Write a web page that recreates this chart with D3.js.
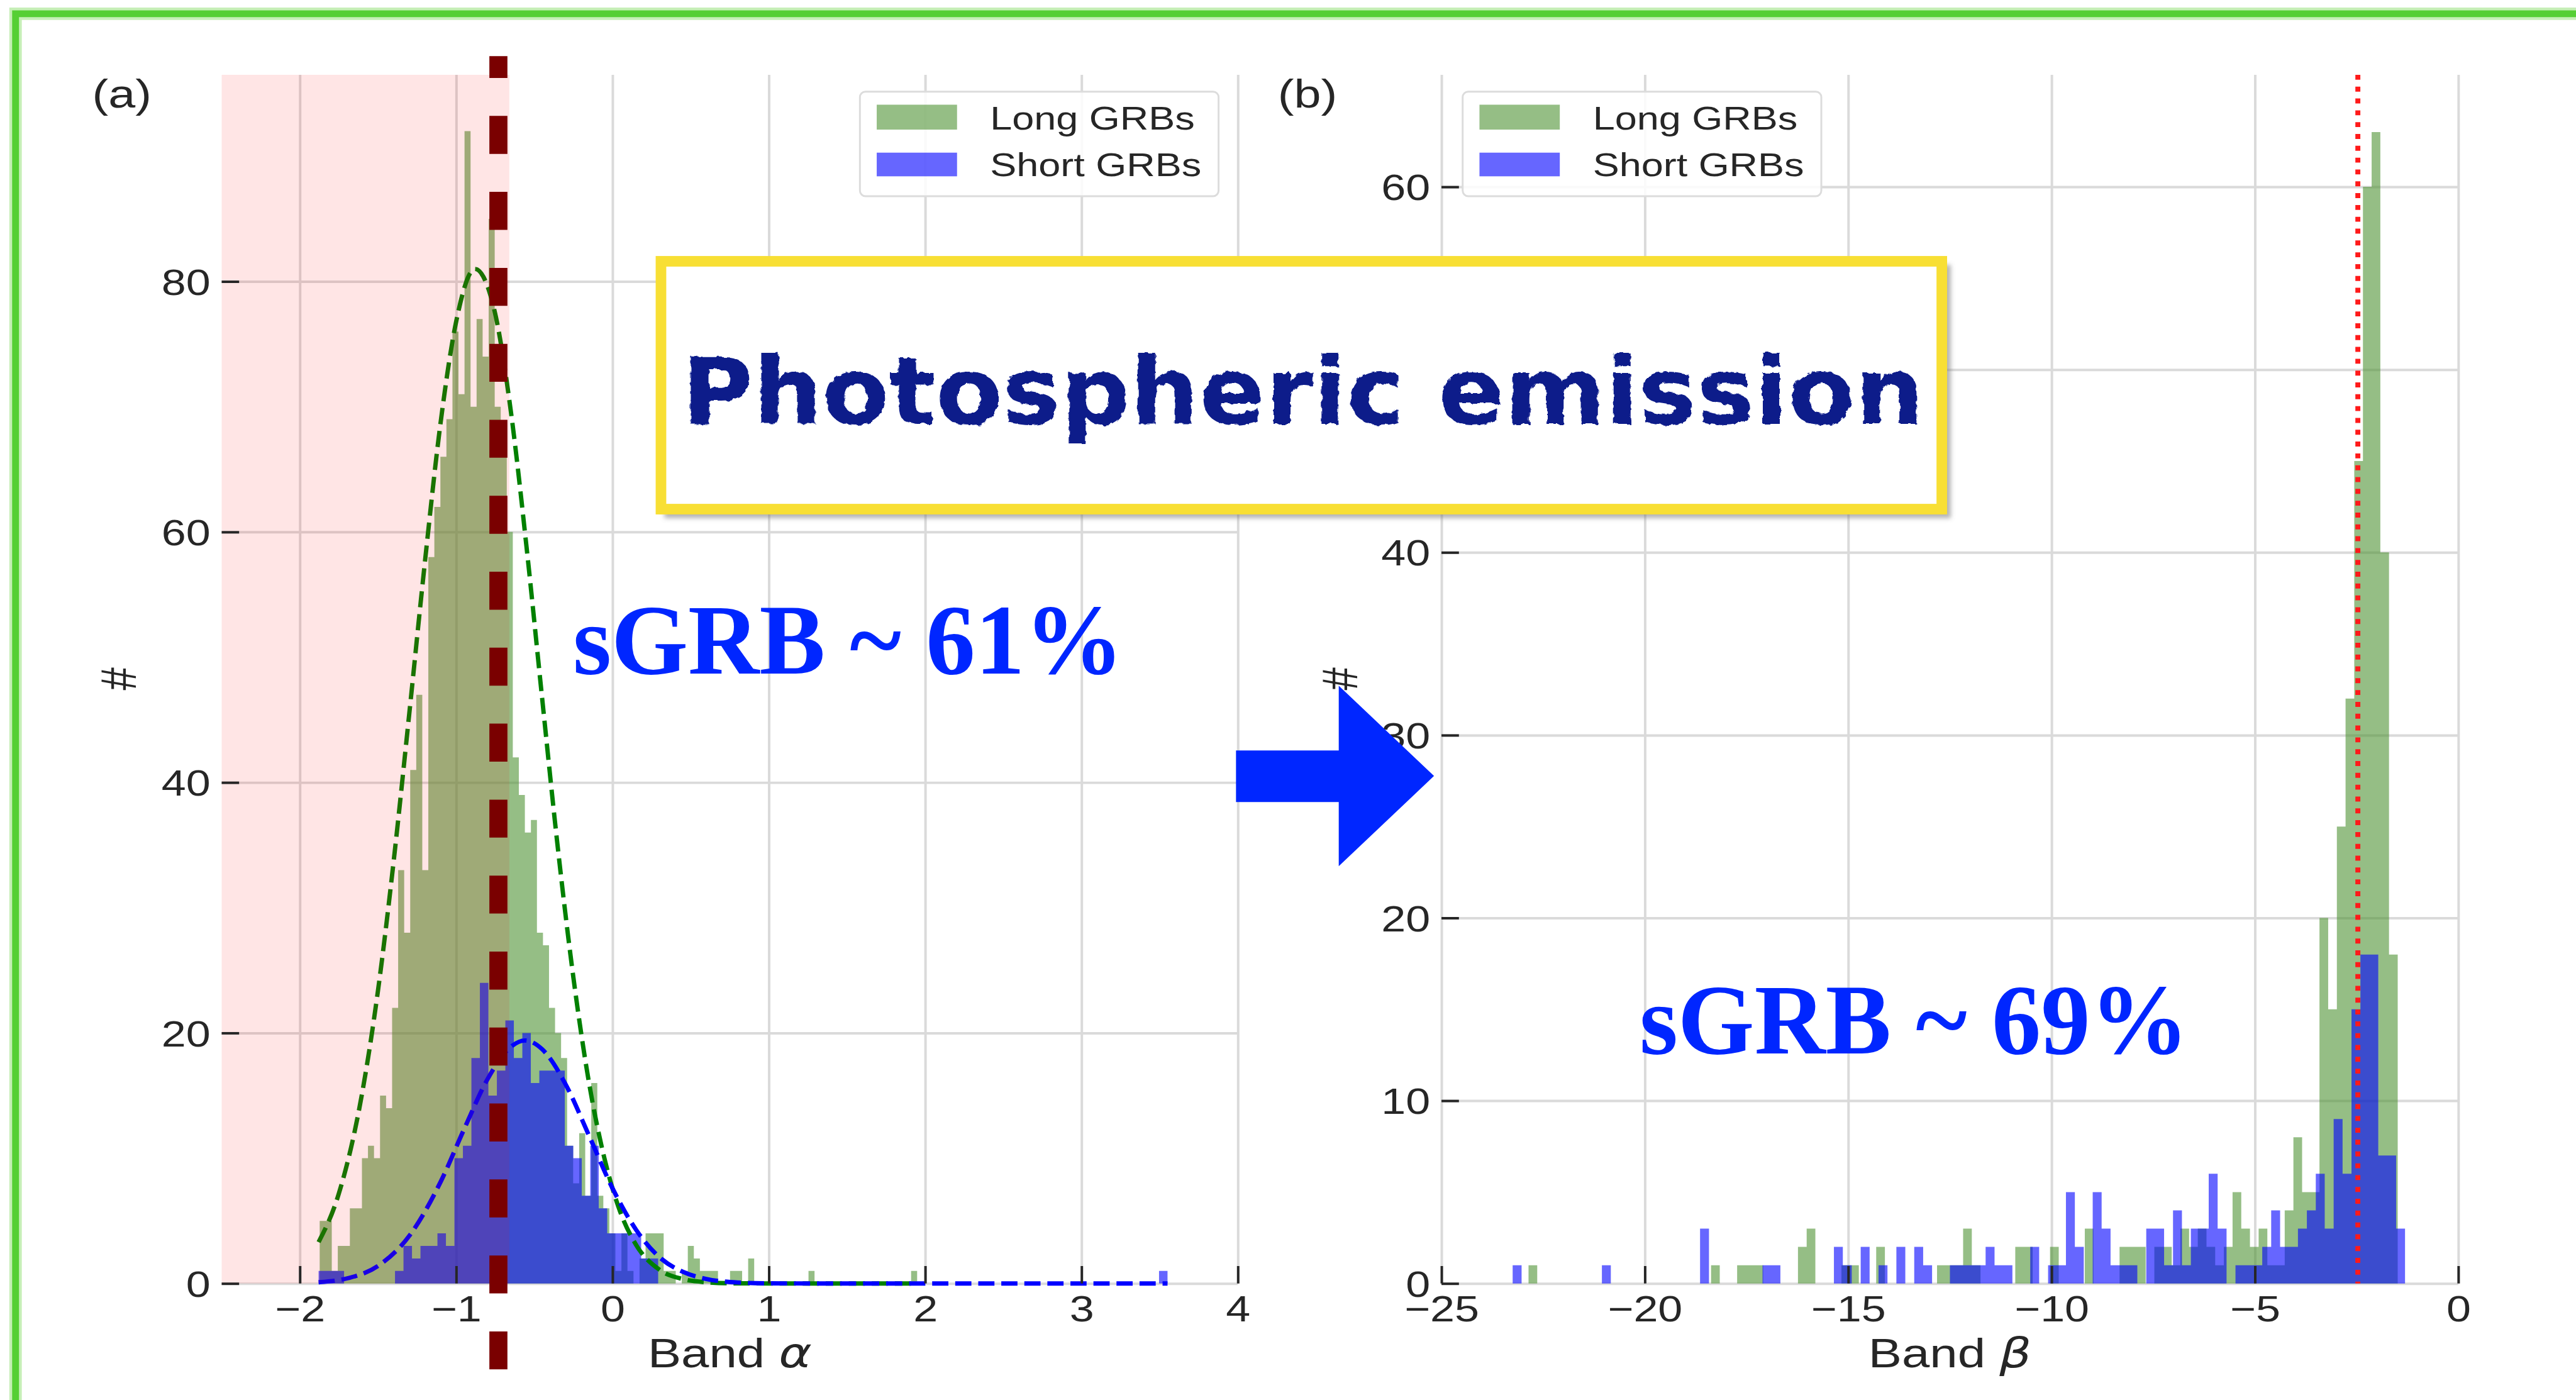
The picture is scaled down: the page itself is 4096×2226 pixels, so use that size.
<!DOCTYPE html>
<html><head><meta charset="utf-8">
<script src="https://cdn.jsdelivr.net/npm/d3@7"></script>
<style>html,body{margin:0;padding:0;background:#fff;overflow:hidden}</style>
</head><body>
<svg id="c" width="4096" height="2226" viewBox="0 0 4137 2248"></svg>
<script>
// ---------------- data ----------------
// Panel (a): Band alpha histograms (100 bins each)
const alphaLongStart = -1.873, alphaLongWidth = 0.0386;
const alphaLongCounts = [
  5,5,1,3,3,6,6,10,11,10,
  15,14,22,33,28,41,47,33,58,62,
  66,69,76,71,92,70,77,74,85,70,
  66,60,42,39,36,37,28,27,22,20,
  18,11,8,12,7,16,7,6,4,1,
  4,1,0,2,4,4,4,1,1,0,
  1,3,2,1,1,1,0,0,1,1,
  0,2,0,0,0,0,0,0,0,0,
  0,1,0,0,0,0,0,0,0,0,
  0,0,0,0,0,0,0,0,1,0];
const alphaShortStart = -1.88, alphaShortWidth = 0.0543;
const alphaShortCounts = [
  1,1,1,0,0,0,0,0,0,1,
  3,2,3,3,4,3,10,11,18,24,
  15,17,21,18,20,16,17,17,17,11,
  10,7,11,6,4,4,4,4,2,2,
  0,0,0,0,0,0,0,0,0,0,
  0,0,0,0,0,0,0,0,0,0,
  0,0,0,0,0,0,0,0,0,0,
  0,0,0,0,0,0,0,0,0,0,
  0,0,0,0,0,0,0,0,0,0,
  0,0,0,0,0,0,0,0,0,1];
// fitted curves
const alphaLongFit = [[-1.88,3.3],[-1.75,7.2],[-1.6,15.3],[-1.5,23.4],[-1.4,33.7],[-1.3,45.5],[-1.2,57.6],[-1.1,68.7],[-1.0,76.8],[-0.88,81.0],[-0.75,77.4],[-0.65,69.6],[-0.55,58.8],[-0.45,46.7],[-0.35,34.8],[-0.25,24.4],[-0.15,16.0],[-0.05,9.9],[0.05,5.7],[0.15,3.1],[0.3,1.1],[0.45,0.35],[0.6,0.1],[0.8,0.01],[1.2,0],[1.95,0]];
const alphaShortFit = [[-1.88,0.1],[-1.7,0.4],[-1.5,1.4],[-1.3,3.8],[-1.1,8.1],[-0.95,12.3],[-0.8,16.3],[-0.65,18.9],[-0.56,19.4],[-0.45,18.7],[-0.3,15.9],[-0.15,11.8],[0,7.6],[0.15,4.3],[0.3,2.1],[0.45,0.93],[0.6,0.36],[0.8,0.08],[1.0,0.01],[1.5,0],[2.5,0],[3.55,0]];
const alphaCut = -0.73;       // dark-red dashed line
const alphaShadeEnd = -0.66;  // pink span end
const alphaXTicks = [-2,-1,0,1,2,3,4];
const alphaYTicks = [0,20,40,60,80];
const alphaYLabelTicks = [0,20,40,60,80];
const alphaXDomain = [-2.5,4], alphaYDomain = [0,96.5];

// Panel (b): Band beta histograms (100 bins each)
const betaLongStart = -22.86, betaLongWidth = 0.2137;
const betaLongCounts = [
  1,0,0,0,0,0,0,0,0,0,
  0,0,0,0,0,0,0,0,0,0,
  0,1,0,0,1,1,1,0,0,0,
  0,2,3,0,0,0,1,1,0,0,
  2,0,0,0,0,0,0,1,1,1,
  3,1,0,0,0,0,2,2,0,0,
  2,0,0,0,3,0,0,0,2,2,
  2,0,2,2,1,3,2,3,2,1,
  2,5,3,2,3,1,1,4,8,5,
  5,20,15,25,32,45,60,63,40,18];
const betaShortStart = -23.25, betaShortWidth = 0.2194;
const betaShortCounts = [
  1,0,0,0,0,0,0,0,0,0,
  1,0,0,0,0,0,0,0,0,0,
  0,3,0,0,0,0,0,0,1,1,
  0,0,0,0,0,0,2,1,0,2,
  0,1,0,2,0,2,1,0,0,1,
  1,1,1,2,1,1,0,0,2,0,
  1,1,5,2,0,5,3,1,1,1,
  0,3,3,1,4,1,3,3,6,3,
  0,1,1,1,2,4,2,2,3,4,
  6,3,9,6,15,18,18,7,7,3];
const betaCut = -2.47;        // red dotted line
const betaXTicks = [-25,-20,-15,-10,-5,0];
const betaYTicks = [0,10,20,30,40,50,60];
const betaYLabelTicks = [0,10,20,30,40,60];   // the 50 label is hidden under the annotation box
const betaXDomain = [-25,0], betaYDomain = [0,66.13];

const legendLabels = ["Long GRBs","Short GRBs"];
const panelLabels = ["(a)","(b)"];
const xLabels = [["Band ","α"],["Band ","β"]];
const yLabel = "#";
const boxText = "Photospheric emission";
const noteTexts = ["sGRB ~ 61%","sGRB ~ 69%"];

// ---------------- drawing ----------------
const svg = d3.select("#c");
const FONT = "'Liberation Sans', Arial, Helvetica, sans-serif";
const SX = 1.22;            // horizontal stretch of the original figure
const TXT = "#262626";
const GREEN = "#4f9334", BLUE = "#0000ff";
const fmt = d3.format("d");

const defs = svg.append("defs");
const rough = defs.append("filter").attr("id","rough").attr("x","-5%").attr("y","-20%").attr("width","110%").attr("height","140%");
rough.append("feTurbulence").attr("type","fractalNoise").attr("baseFrequency","0.09").attr("numOctaves",2).attr("result","n");
rough.append("feDisplacementMap").attr("in","SourceGraphic").attr("in2","n").attr("scale",8);
const sh = defs.append("filter").attr("id","shadow").attr("x","-5%").attr("y","-10%").attr("width","110%").attr("height","130%");
sh.append("feGaussianBlur").attr("stdDeviation",4);

svg.append("rect").attr("width",4137).attr("height",2248).attr("fill","#fff");

function stretchedText(parent, x, y, str, size, anchor, sx) {
  return parent.append("text")
    .attr("transform", `translate(${x},${y}) scale(${sx},1)`)
    .attr("font-family", FONT).attr("font-size", size).attr("fill", TXT)
    .attr("text-anchor", anchor).text(str);
}

function histArea(g, x, y, start, width, counts, color) {
  const pts = counts.map((c,i) => ({x: start + i*width, c}));
  pts.push({x: start + counts.length*width, c: 0});
  const area = d3.area().curve(d3.curveStepAfter)
    .x(d => x(d.x)).y0(y(0)).y1(d => y(d.c));
  g.append("path").datum(pts).attr("d", area)
    .attr("fill", color).attr("fill-opacity", 0.6);
}

function panel(o) {
  const x = d3.scaleLinear().domain(o.xDomain).range([o.left, o.right]);
  const y = d3.scaleLinear().domain(o.yDomain).range([o.bottom, o.top]);
  const g = svg.append("g");
  // grid
  const gx = g.append("g").attr("transform", `translate(0,${o.bottom})`)
    .call(d3.axisBottom(x).tickValues(o.xTicks).tickSize(-(o.bottom - o.top)).tickFormat(""));
  gx.select(".domain").remove();
  gx.selectAll("line").attr("stroke", "#dadada").attr("stroke-width", 4);
  const gy = g.append("g").attr("transform", `translate(${o.left},0)`)
    .call(d3.axisLeft(y).tickValues(o.yTicks).tickSize(-(o.right - o.left)).tickFormat(""));
  gy.select(".domain").remove();
  gy.selectAll("line").attr("stroke", "#dadada").attr("stroke-width", 4);
  // histograms
  histArea(g, x, y, o.longStart, o.longWidth, o.longCounts, GREEN);
  histArea(g, x, y, o.shortStart, o.shortWidth, o.shortCounts, BLUE);
  return {x, y, g};
}

function axes(P, o) {
  const {x, y, g} = P;
  const ax = g.append("g").attr("transform", `translate(0,${o.bottom})`)
    .call(d3.axisBottom(x).tickValues(o.xTicks).tickSize(-28).tickPadding(20).tickFormat(fmt));
  ax.select(".domain").remove();
  ax.selectAll(".tick line").attr("stroke", TXT).attr("stroke-width", 4);
  ax.selectAll(".tick text").attr("font-family", FONT).attr("font-size", 58)
    .attr("fill", TXT).attr("transform", `scale(${SX},1)`);
  // y tick marks (all ticks)
  const ayt = g.append("g").attr("transform", `translate(${o.left},0)`)
    .call(d3.axisLeft(y).tickValues(o.yTicks).tickSize(-28).tickFormat(""));
  ayt.select(".domain").remove();
  ayt.selectAll(".tick line").attr("stroke", TXT).attr("stroke-width", 4);
  // y tick labels (the visible ones)
  const ay = g.append("g").attr("transform", `translate(${o.left},0)`)
    .call(d3.axisLeft(y).tickValues(o.yLabelTicks).tickSize(0).tickPadding(18).tickFormat(fmt));
  ay.select(".domain").remove();
  ay.selectAll(".tick line").remove();
  ay.selectAll(".tick text").attr("font-family", FONT).attr("font-size", 58)
    .attr("fill", TXT).attr("x", -18 / SX).attr("dy", "0.36em").attr("transform", `scale(${SX},1)`);
  // x label
  const t = g.append("text")
    .attr("transform", `translate(${(o.left + o.right) / 2},2196) scale(${SX},1)`)
    .attr("font-family", FONT).attr("font-size", 66).attr("fill", TXT).attr("text-anchor", "middle");
  t.append("tspan").text(o.xLabel[0]);
  t.append("tspan").attr("font-family", "'DejaVu Sans', sans-serif").attr("font-style", "italic").text(o.xLabel[1]);
  // y label
  g.append("text")
    .attr("transform", `translate(${o.yLabelX},1090) scale(${SX},1) rotate(-90)`)
    .attr("font-family", FONT).attr("font-size", 66).attr("fill", TXT).attr("text-anchor", "middle")
    .text(yLabel);
  // panel letter
  stretchedText(g, o.letterX, 173, o.letter, 64, "start", SX);
  // legend
  const lx = o.legendX;
  g.append("rect").attr("x", lx).attr("y", 147).attr("width", 576).attr("height", 168).attr("rx", 9)
    .attr("fill", "#fff").attr("fill-opacity", 0.85).attr("stroke", "#dcdcdc").attr("stroke-width", 3);
  g.append("rect").attr("x", lx + 27).attr("y", 168).attr("width", 129).attr("height", 40)
    .attr("fill", GREEN).attr("fill-opacity", 0.6);
  g.append("rect").attr("x", lx + 27).attr("y", 245).attr("width", 129).attr("height", 38)
    .attr("fill", BLUE).attr("fill-opacity", 0.6);
  stretchedText(g, lx + 209, 208, legendLabels[0], 53, "start", 1.2);
  stretchedText(g, lx + 209, 283, legendLabels[1], 53, "start", 1.2);
}

// ----- panel (a)
const A = {left: 356, right: 1988, top: 120, bottom: 2061,
  xDomain: alphaXDomain, yDomain: alphaYDomain, xTicks: alphaXTicks, yTicks: alphaYTicks, yLabelTicks: alphaYLabelTicks,
  longStart: alphaLongStart, longWidth: alphaLongWidth, longCounts: alphaLongCounts,
  shortStart: alphaShortStart, shortWidth: alphaShortWidth, shortCounts: alphaShortCounts,
  xLabel: xLabels[0], yLabelX: 218, letter: panelLabels[0], letterX: 148, legendX: 1381};
const PA = panel(A);
const line = d3.line().curve(d3.curveMonotoneX).x(d => PA.x(d[0])).y(d => PA.y(d[1]));
PA.g.append("path").datum(alphaLongFit).attr("d", line).attr("fill", "none")
  .attr("stroke", "#008000").attr("stroke-width", 7).attr("stroke-dasharray", "26,11");
PA.g.append("path").datum(alphaShortFit).attr("d", line).attr("fill", "none")
  .attr("stroke", "#0000ff").attr("stroke-width", 7).attr("stroke-dasharray", "26,11");
// pink span
PA.g.append("rect").attr("x", PA.x(alphaXDomain[0])).attr("y", A.top)
  .attr("width", PA.x(alphaShadeEnd) - PA.x(alphaXDomain[0])).attr("height", A.bottom - A.top)
  .attr("fill", "#ff0000").attr("fill-opacity", 0.1);
axes(PA, A);
// dark red dashed line
PA.g.append("line").attr("x1", PA.x(alphaCut)).attr("x2", PA.x(alphaCut)).attr("y1", 90).attr("y2", 2200)
  .attr("stroke", "#7a0000").attr("stroke-width", 29).attr("stroke-dasharray", "61,61").attr("stroke-dashoffset", 26);

// ----- panel (b)
const B = {left: 2315, right: 3948, top: 120, bottom: 2061,
  xDomain: betaXDomain, yDomain: betaYDomain, xTicks: betaXTicks, yTicks: betaYTicks, yLabelTicks: betaYLabelTicks,
  longStart: betaLongStart, longWidth: betaLongWidth, longCounts: betaLongCounts,
  shortStart: betaShortStart, shortWidth: betaShortWidth, shortCounts: betaShortCounts,
  xLabel: xLabels[1], yLabelX: 2180, letter: panelLabels[1], letterX: 2052, legendX: 2349};
const PB = panel(B);
axes(PB, B);
PB.g.append("line").attr("x1", PB.x(betaCut)).attr("x2", PB.x(betaCut)).attr("y1", B.top).attr("y2", B.bottom)
  .attr("stroke", "#ff1a1a").attr("stroke-width", 8).attr("stroke-dasharray", "8,11");

// ----- annotation box
svg.append("rect").attr("x", 1067).attr("y", 425).attr("width", 2066).attr("height", 407)
  .attr("fill", "#777").attr("fill-opacity", 0.55).attr("filter", "url(#shadow)");
svg.append("rect").attr("x", 1061.5).attr("y", 419.5).attr("width", 2057).attr("height", 398)
  .attr("fill", "#fff").attr("stroke", "#f8df34").attr("stroke-width", 17);
svg.append("text").attr("x", 1095).attr("y", 681)
  .attr("font-family", "'DejaVu Sans', sans-serif").attr("font-weight", "bold").attr("font-size", 150)
  .attr("fill", "#0b1a8a").attr("textLength", 1995).attr("lengthAdjust", "spacingAndGlyphs")
  .attr("filter", "url(#rough)").text(boxText);

// ----- percentages
svg.append("text").attr("x", 920).attr("y", 1082)
  .attr("font-family", "'Liberation Serif', 'Times New Roman', serif").attr("font-weight", "bold")
  .attr("font-size", 160).attr("fill", "#0026ff")
  .attr("textLength", 884).attr("lengthAdjust", "spacingAndGlyphs").text(noteTexts[0]);
svg.append("text").attr("x", 2633).attr("y", 1692)
  .attr("font-family", "'Liberation Serif', 'Times New Roman', serif").attr("font-weight", "bold")
  .attr("font-size", 160).attr("fill", "#0026ff")
  .attr("textLength", 882).attr("lengthAdjust", "spacingAndGlyphs").text(noteTexts[1]);

// ----- arrow
svg.append("polygon")
  .attr("points", "1985,1205 2150,1205 2150,1101 2303,1246 2150,1391 2150,1288 1985,1288")
  .attr("fill", "#0026ff");

// ----- green frame
svg.append("path").attr("d", "M25,2260 V22 H4150").attr("fill", "none")
  .attr("stroke", "#8ee070").attr("stroke-width", 20).attr("stroke-opacity", 0.5);
svg.append("path").attr("d", "M25,2260 V22 H4150").attr("fill", "none")
  .attr("stroke", "#55cf34").attr("stroke-width", 11);
</script>
</body></html>
